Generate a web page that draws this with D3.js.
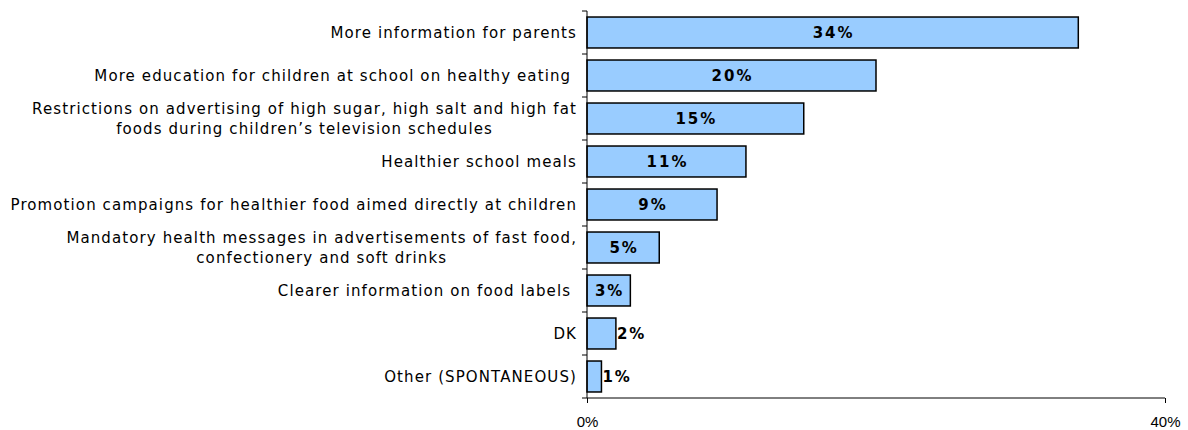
<!DOCTYPE html>
<html>
<head>
<meta charset="utf-8">
<script src="https://cdn.jsdelivr.net/npm/d3@7"></script>
<style>
  body { margin: 0; background: #fff; }
  svg text { font-family: "DejaVu Sans", Verdana, sans-serif; }
</style>
</head>
<body>
<svg id="chart" width="1188" height="430"></svg>
<script>
// categories (multi-line labels split by "|")
const categories = [
  "More information for parents",
  "More education for children at school on healthy eating ",
  "Restrictions on advertising of high sugar, high salt and high fat|foods during children\u2019s television schedules",
  "Healthier school meals",
  "Promotion campaigns for healthier food aimed directly at children",
  "Mandatory health messages in advertisements of fast food,|confectionery and soft drinks",
  "Clearer information on food labels ",
  "DK",
  "Other (SPONTANEOUS)"
];
const values = [34, 20, 15, 11, 9, 5, 3, 2, 1];
const xTicks = [0, 40];

const w = 1188, h = 430;
const plotLeft = 587, plotRight = 1165, plotTop = 11, plotBottom = 398;

const svg = d3.select("#chart");

//scales
var x = d3.scaleLinear().domain([0, 40]).range([plotLeft, plotRight]);
var y = d3.scaleBand().domain(d3.range(categories.length)).range([plotTop, plotBottom]).paddingInner(0.28).paddingOuter(0.14);

//bars
svg.selectAll("rect.bar")
  .data(values)
  .join("rect")
  .attr("class", "bar")
  .attr("x", x(0))
  .attr("y", (d, i) => y(i))
  .attr("width", d => x(d) - x(0))
  .attr("height", y.bandwidth())
  .attr("fill", "#99CCFF")
  .attr("stroke", "#000")
  .attr("stroke-width", 1.5);

//value labels - centered if they fit, otherwise right of the bar
svg.selectAll("text.val")
  .data(values)
  .join("text")
  .attr("class", "val")
  .attr("x", d => (x(d) - x(0)) > 40 ? (x(0) + x(d)) / 2 + 1 : x(d) + 1)
  .attr("y", (d, i) => y(i) + y.bandwidth() / 2)
  .attr("dy", "0.36em")
  .attr("text-anchor", d => (x(d) - x(0)) > 40 ? "middle" : "start")
  .style("font-size", "15px")
  .style("font-weight", "bold")
  .style("letter-spacing", "2px")
  .text(d => d + "%");

//y axis line + ticks at category boundaries
const step = y.step();
svg.append("line")
  .attr("x1", plotLeft).attr("x2", plotLeft)
  .attr("y1", plotTop).attr("y2", plotBottom)
  .attr("stroke", "#000");
svg.selectAll("line.ytick")
  .data(d3.range(categories.length + 1))
  .join("line")
  .attr("class", "ytick")
  .attr("x1", plotLeft - 5).attr("x2", plotLeft)
  .attr("y1", i => plotTop + i * step).attr("y2", i => plotTop + i * step)
  .attr("stroke", "#000");

//x axis
var xAxis = d3.axisBottom(x).tickValues(xTicks).tickFormat(d => d + "%").tickSize(5).tickPadding(13);
const gx = svg.append("g")
  .attr("transform", "translate(0," + plotBottom + ")")
  .call(xAxis);
gx.select(".domain").attr("d", "M" + plotLeft + ",0H" + plotRight);
gx.selectAll("text").style("font-size", "15px").style("font-family", "'Liberation Sans', Arial, sans-serif").attr("fill", "#000");

//category labels
const labels = svg.selectAll("text.cat")
  .data(categories)
  .join("text")
  .attr("class", "cat")
  .style("font-size", "15px")
  .style("letter-spacing", "1.1px")
  .attr("fill", "#000");

labels.each(function(d, i) {
  const lines = d.split("|");
  const t = d3.select(this);
  const cy = y(i) + y.bandwidth() / 2;
  const lh = 20;
  lines.forEach((ln, k) => {
    t.append("tspan")
      .attr("xml:space", "preserve")
      .attr("y", cy + (k - (lines.length - 1) / 2) * lh)
      .attr("dy", "0.36em")
      .text(ln);
  });
});
// right-align the block, center the lines inside it
labels.each(function() {
  const spans = d3.select(this).selectAll("tspan").nodes();
  const widths = spans.map(s => s.getComputedTextLength());
  const maxW = d3.max(widths);
  const cx = plotLeft - 10 - maxW / 2;
  spans.forEach(s => {
    d3.select(s).attr("x", cx).attr("text-anchor", "middle");
  });
});
</script>
</body>
</html>
